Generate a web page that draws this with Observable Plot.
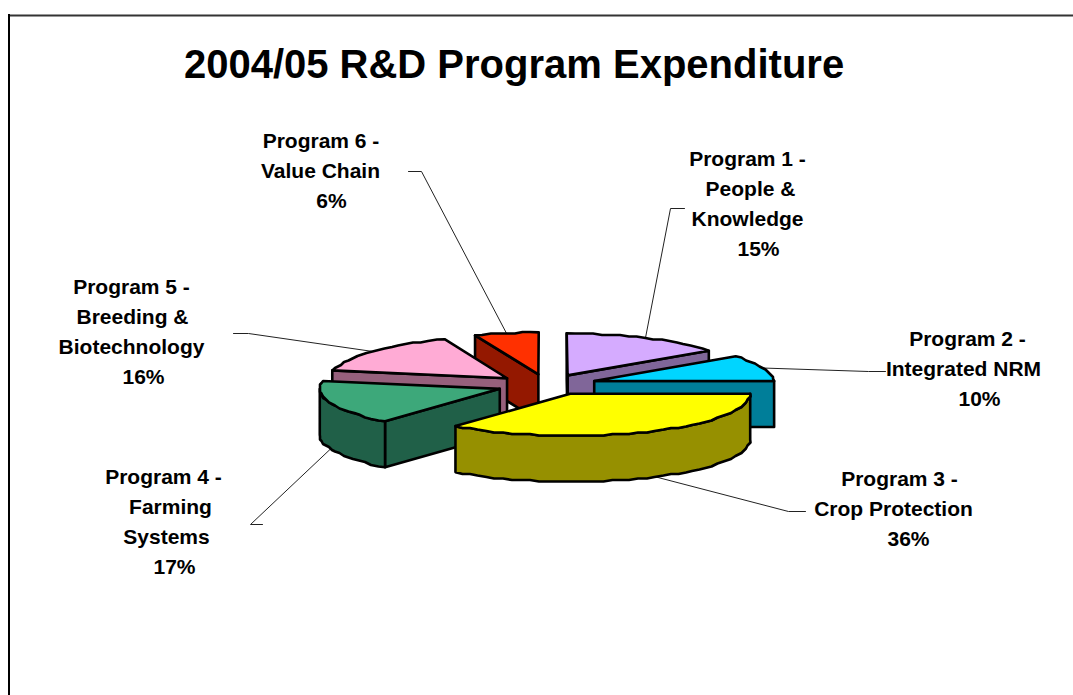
<!DOCTYPE html>
<html>
<head>
<meta charset="utf-8">
<script src="https://cdn.jsdelivr.net/npm/d3@7"></script>
<script src="https://cdn.jsdelivr.net/npm/@observablehq/plot@0.6"></script>
<style>
html,body{margin:0;padding:0;background:#fff;overflow:hidden}
svg{display:block}
</style>
</head>
<body>
<div id="chart"></div>
<script>
// ---- data ----
const chartTitle = "2004/05 R&D Program Expenditure";
const programs = ["Program 1", "Program 2", "Program 3", "Program 4", "Program 5", "Program 6"];
const shares = [15, 10, 36, 17, 16, 6];
const labelLines = [
  ["Program 1 -", "People &", "Knowledge", "15%"],
  ["Program 2 -", "Integrated NRM", "10%"],
  ["Program 3 -", "Crop Protection", "36%"],
  ["Program 4 -", "Farming", "Systems", "17%"],
  ["Program 5 -", "Breeding &", "Biotechnology", "16%"],
  ["Program 6 -", "Value Chain", "6%"]
];
// ---- styling / layout ----
const topColors  = ["#D5ABFF", "#00D5FF", "#FFFF00", "#3DA87A", "#FFABD5", "#FF3000"];
const sideColors = ["#806699", "#007E99", "#969000", "#206048", "#96607C", "#941800"];
const drawOrder = [5, 4, 0, 1, 3, 2];
const labelX = [
  [747, 750, 747, 758],
  [967, 963, 979],
  [899, 893, 908],
  [163, 170, 166, 174],
  [131, 132, 131, 143],
  [320.5, 320, 331]
];
const labelY = [
  [159, 189, 219, 249],
  [339, 369, 399],
  [479, 509, 539],
  [477, 507, 537, 567],
  [287, 317, 347, 377],
  [141, 171, 201]
];
const leaderKnee = [[670, 208], [868, 371], [788, 511], [250, 524], [248, 333], [421, 171]];
const leaderEnd  = [[684, 208], [885, 371], [805, 511], [262, 524], [233, 333], [408, 171]];
const leaderTurn = [0, 0, -3, 0, 0, 0];
const sliceNudge = [[-1, 1.5], [1.5, 0.5], [3, -0.5], [-1, 1], [-2, 1.5], [1, 1.5]];
const pie = {cx: 546, cy: 383.5, rx: 180, ry: 42, depth: 46, explode: 0.27, perspective: 0.00085, horizon: 381};

// ---- geometry derived from the shares ----
const total = d3.sum(shares);
const rad = d => d * Math.PI / 180;
const snap = v => Math.round(v / 1.5) * 1.5;
let acc = 0;
const slices = shares.map((s, i) => {
  const a0 = acc / total * 360; acc += s;
  const a1 = acc / total * 360, mid = (a0 + a1) / 2;
  return {i, a0, a1, mid,
    ax: pie.cx + pie.explode * pie.rx * Math.sin(rad(mid)) + sliceNudge[i][0],
    ay: pie.cy - pie.explode * pie.ry * Math.cos(rad(mid)) + sliceNudge[i][1]};
});
const rim = (s, a) => {
  const x = s.ax + pie.rx * Math.sin(rad(a)), y = s.ay - pie.ry * Math.cos(rad(a));
  const k = 1 - Math.max(0, pie.horizon - y) * pie.perspective;
  return [pie.cx + (x - pie.cx) * k, y];
};
const arcPts = (s, a0, a1) => {
  const n = Math.max(1, Math.ceil((a1 - a0) / 3));
  return d3.range(n + 1).map(k => {
    const p = rim(s, a0 + (a1 - a0) * k / n);
    return (k === 0 || k === n) ? p : [snap(p[0]), snap(p[1])];
  });
};
const rows = [];
const pushFace = (id, color, pts) => {
  [...pts, pts[0]].forEach(p => rows.push({face: id, color, x: p[0], y: p[1]}));
};
drawOrder.forEach(i => {
  const s = slices[i], d = pie.depth;
  const wall = a => {
    const r = rim(s, a);
    pushFace(`w${i}-${a}`, sideColors[i], [[s.ax, s.ay], r, [r[0], r[1] + d], [s.ax, s.ay + d]]);
  };
  if (Math.sin(rad(s.a0)) < -1e-6) wall(s.a0);
  if (Math.sin(rad(s.a1)) > 1e-6) wall(s.a1);
  if (s.a0 === 0) wall(0);
  const f0 = Math.max(s.a0, 90), f1 = Math.min(s.a1, 270);
  if (f1 > f0) {
    const top = arcPts(s, f0, f1);
    const bot = top.slice().reverse().map(p => [p[0], p[1] + d]);
    pushFace(`o${i}`, sideColors[i], [...top, ...bot]);
  }
  pushFace(`t${i}`, topColors[i], [[s.ax, s.ay], ...arcPts(s, s.a0, s.a1)]);
});

const leaders = [];
slices.forEach(s => {
  const a = s.mid + leaderTurn[s.i];
  const p = rim(s, a);
  const y = (a > 90 && a < 270) ? p[1] + pie.depth : p[1];
  [[p[0], y], leaderKnee[s.i], leaderEnd[s.i]].forEach(q => leaders.push({id: s.i, x: q[0], y: q[1]}));
});
const labels = labelLines.flatMap((lines, i) =>
  lines.map((text, j) => ({text, x: labelX[i][j], y: labelY[i][j], program: programs[i]})));

const chart = Plot.plot({
  width: 1073, height: 695, margin: 0,
  x: {domain: [0, 1073], range: [0, 1073], axis: null},
  y: {domain: [0, 695], range: [0, 695], axis: null},
  color: {type: "identity"},
  style: {background: "#fff", fontFamily: "'Liberation Sans', Arial, sans-serif"},
  marks: [
    Plot.ruleY([15], {x1: 8, x2: 1073, stroke: "#333", strokeWidth: 2}),
    Plot.ruleX([8.5], {y1: 14, y2: 695, stroke: "#000", strokeWidth: 2}),
    Plot.line(leaders, {x: "x", y: "y", z: "id", stroke: "#222", strokeWidth: 1, curve: "linear"}),
    Plot.line(rows, {x: "x", y: "y", z: "face", fill: "color", stroke: "#000", strokeWidth: 2.6, strokeLinejoin: "round", curve: "linear"}),
    Plot.text(labels, {x: "x", y: "y", text: "text", fontSize: 21, fontWeight: "bold", fill: "#000", textAnchor: "middle", lineAnchor: "middle"}),
    Plot.text([chartTitle], {x: 513.5, y: 64.5, fontSize: 40, fontWeight: "bold", fill: "#000", textAnchor: "middle", lineAnchor: "middle"})
  ]
});
document.getElementById("chart").appendChild(chart);
</script>
</body>
</html>
